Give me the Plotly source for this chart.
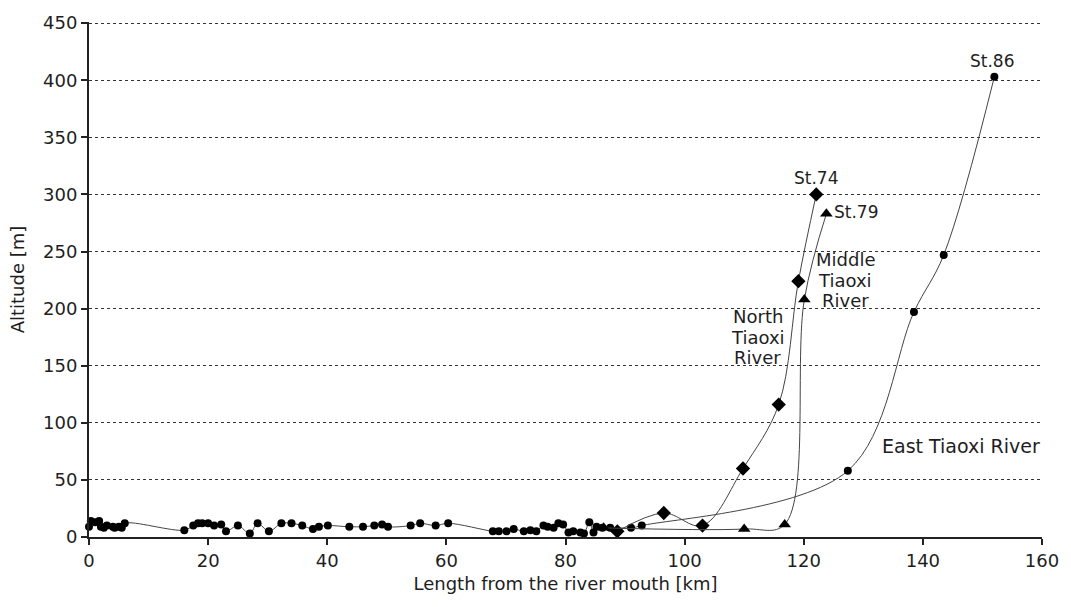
import plotly.graph_objects as go

# East Tiaoxi River (main stem, circles)
east_x = [0.0, 0.3, 1.0, 1.7, 2.0, 2.5, 3.0, 4.0, 4.3, 5.0, 5.5, 6.0,
          16.0, 17.5, 18.3, 19.0, 20.0, 21.0, 22.2, 23.0, 25.0, 27.0, 28.3, 30.2,
          32.3, 34.0, 35.8, 37.6, 38.6, 40.1, 43.7, 46.0, 47.9, 49.2, 50.2,
          54.0, 55.6, 58.2, 60.3, 67.8, 68.8, 70.1, 71.3, 73.0, 74.1, 75.1,
          76.3, 77.0, 78.0, 78.8, 79.6, 80.5, 81.3, 82.5, 83.1, 84.0, 84.7,
          85.2, 86.2, 87.5, 91.0, 92.8, 127.4, 138.5, 143.5, 152.0]
east_y = [9, 14, 13, 14, 9, 8, 10, 9, 8, 9, 8, 12,
          6, 10, 12, 12, 12, 10, 11, 5, 10, 3, 12, 5,
          12, 12, 10, 7, 9, 10, 9, 9, 10, 11, 9,
          10, 12, 10, 12, 5, 5, 5, 7, 5, 6, 5,
          10, 9, 8, 12, 11, 4, 5, 4, 3, 13, 4,
          9, 8, 8, 8, 10, 58, 197, 247, 403]

# North Tiaoxi River (diamonds)
north_x = [88.7, 96.5, 103.0, 109.8, 115.8, 119.1, 122.1]
north_y = [5, 21, 10, 60, 116, 224, 300]

# Middle Tiaoxi River (triangles)
middle_x = [86.4, 110.0, 116.8, 120.1, 123.8]
middle_y = [8, 7, 11, 208, 283]

x_ticks = [0, 20, 40, 60, 80, 100, 120, 140, 160]
y_ticks = [0, 50, 100, 150, 200, 250, 300, 350, 400, 450]

FONT = "DejaVu Sans, Liberation Sans, Arial, sans-serif"
TXT = "#1e1e1e"
LINE = "#444444"

fig = go.Figure()

def add_series(xs, ys, symbol, size):
    fig.add_trace(go.Scatter(
        x=xs, y=ys, mode="lines+markers",
        line=dict(color=LINE, width=1, shape="spline", smoothing=1.0),
        marker=dict(symbol=symbol, size=size, color="black"),
        cliponaxis=False, showlegend=False, hoverinfo="x+y"))

add_series(east_x, east_y, "circle", 8)
add_series(north_x, north_y, "diamond", 11)
add_series(middle_x, middle_y, "triangle-up", 11)

annos = [
    dict(x=151.7, y=417, text="St.86", xanchor="center", size=17),
    dict(x=122.1, y=314, text="St.74", xanchor="center", size=17),
    dict(x=124.9, y=285, text="St.79", xanchor="left", size=17),
    dict(x=127.0, y=243, text="Middle", xanchor="center", size=18),
    dict(x=127.0, y=225, text="Tiaoxi", xanchor="center", size=18),
    dict(x=127.0, y=207, text="River", xanchor="center", size=18),
    dict(x=112.3, y=193, text="North", xanchor="center", size=18),
    dict(x=112.3, y=175, text="Tiaoxi", xanchor="center", size=18),
    dict(x=112.3, y=157, text="River", xanchor="center", size=18),
    dict(x=133.0, y=80, text="East Tiaoxi River", xanchor="left", size=19),
]
for a in annos:
    sz = a.pop("size")
    fig.add_annotation(**a, yanchor="middle", showarrow=False, borderpad=0,
                       font=dict(family=FONT, size=sz, color=TXT))

fig.update_layout(
    width=1071, height=607,
    margin=dict(l=89, r=26, t=14, b=70),
    paper_bgcolor="white", plot_bgcolor="white",
    font=dict(family=FONT, size=18, color=TXT),
)
fig.update_xaxes(
    range=[0, 160], tickvals=x_ticks, ticks="outside", ticklen=6, tickwidth=1.5,
    tickcolor="#222222", showline=True, linecolor="#222222", linewidth=2,
    showgrid=False, zeroline=False, tickfont=dict(size=18),
    title=dict(text="Length from the river mouth [km]", standoff=8,
               font=dict(family=FONT, size=18)),
)
fig.update_yaxes(
    range=[0, 451], tickvals=y_ticks, ticks="outside", ticklen=6, tickwidth=1.5,
    tickcolor="#222222", showline=True, linecolor="#222222", linewidth=2,
    showgrid=True, gridcolor="#333333", gridwidth=1, griddash="3px,3px",
    zeroline=False, tickfont=dict(size=18),
    title=dict(text="Altitude [m]", standoff=14, font=dict(family=FONT, size=18)),
)

fig.write_html("out.html", config={"displayModeBar": False},
               post_script="document.body.style.margin='0';")
